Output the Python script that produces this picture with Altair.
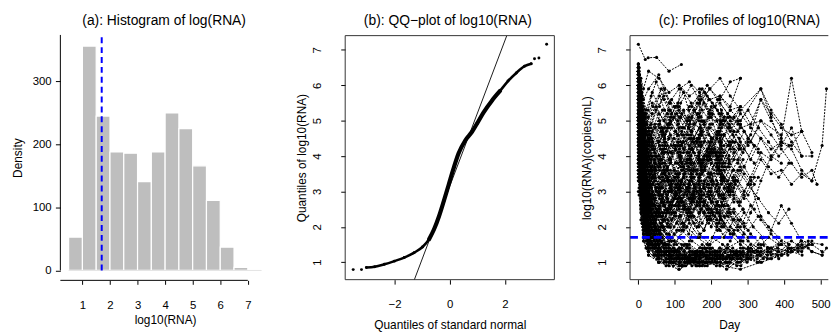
import altair as alt
import pandas as pd

FONT = "Liberation Sans"
H = 247
WA, WB, WC, GAP = 212, 211.7, 200.7, 76.3

titles = ["(a): Histogram of log(RNA)",
          "(b): QQ\u2212plot of log10(RNA)",
          "(c): Profiles of log10(RNA)"]

# ---------------- panel (a) : histogram ----------------
bin_left = [0.5, 1.0, 1.5, 2.0, 2.5, 3.0, 3.5, 4.0, 4.5, 5.0, 5.5, 6.0, 6.5]
bin_count = [53, 356, 245, 188, 186, 141, 188, 250, 225, 166, 111, 37, 5]
bin_width = 0.5
detect_limit = 1.7
hist_x_ticks = [1, 2, 3, 4, 5, 6, 7]
hist_y_ticks = [0, 100, 200, 300]

# ---------------- panel (b) : QQ plot ----------------
qq_theory = [-3.50, -3.20, -3.02, -2.72, -2.37, -2.01, -1.65, -1.29, -0.99, -0.75,
             -0.57, -0.39, -0.22, -0.04, 0.14, 0.32, 0.56, 0.80, 0.98, 1.22,
             1.52, 1.82, 2.11, 2.41, 2.71, 2.95, 3.07, 3.23, 3.51]
qq_sample = [0.79, 0.79, 0.85, 0.87, 0.94, 1.03, 1.13, 1.27, 1.43, 1.65,
             1.93, 2.30, 2.72, 3.19, 3.66, 4.08, 4.44, 4.68, 4.91, 5.23,
             5.56, 5.84, 6.12, 6.35, 6.54, 6.61, 6.75, 6.77, 7.16]
qq_intercept = 3.15
qq_slope = 2.06
qq_x_ticks = [-2, 0, 2]
log_ticks = [1, 2, 3, 4, 5, 6, 7]

# ---------------- panel (c) : profiles ----------------
day_ticks = [0, 100, 200, 300, 400, 500]
# profiles with their own visit days: (day, log10 RNA)
profiles = [
    [(0,5.1),(2,4.6),(7,3.4),(14,2.6),(28,1.9),(56,1.4),(84,1.2),(112,1.1),(168,1.0),(224,1.2),(280,1.1)],
    [(0,4.4),(3,4.0),(7,3.1),(14,2.2),(28,1.6),(56,1.2),(85,1.0),(113,0.9),(141,1.1),(170,1.3),(226,1.0)],
    [(0,5.8),(2,5.5),(6,4.3),(13,3.3),(27,2.2),(55,1.5),(83,1.3),(111,0.8),(167,1.1),(223,1.4),(279,1.2),(337,1.3),(392,1.2)],
    [(0,6.2),(2,5.9),(7,4.8),(14,3.7),(28,2.5),(57,1.8),(84,1.5),(112,1.3),(140,1.4),(168,1.2),(196,1.1),(224,1.3),(252,1.2),(280,1.0),(308,1.1)],
    [(0,3.9),(3,3.5),(7,2.6),(14,1.9),(28,1.4),(56,1.1),(112,1.0),(168,0.9),(224,1.1)],
    [(0,4.9),(2,4.7),(7,3.7),(14,2.8),(21,2.2),(28,1.8),(56,1.3),(84,1.2),(112,1.4),(140,1.2),(168,0.9),(197,1.0),(225,1.2),(253,1.3),(282,1.1),(338,1.0),(394,1.2),(450,1.4)],
    [(0,5.5),(2,5.0),(7,3.9),(14,2.9),(28,2.1),(56,1.6),(84,1.4),(112,1.2),(140,1.5),(168,1.3),(224,1.2),(280,1.4),(336,1.3),(392,1.5),(448,1.3),(476,1.6)],
    [(0,6.5),(2,6.3),(7,5.2),(14,4.0),(28,2.8),(56,1.9),(84,1.6),(112,1.1),(168,1.0),(224,0.9),(280,0.8),(336,1.0)],
    [(0,4.2),(2,4.0),(7,3.0),(14,2.3),(28,1.7),(56,1.2),(84,0.9),(112,1.1),(140,1.2),(168,1.4),(196,1.3),(252,1.1)],
    [(0,5.3),(3,5.1),(8,4.0),(15,3.1),(29,2.0),(57,1.4),(85,1.1),(113,1.0),(169,1.2),(225,1.0),(281,0.9),(309,1.2),(365,1.1),(421,1.3),(449,1.2)],
    [(0,3.5),(2,3.3),(7,2.4),(14,1.8),(28,1.3),(56,1.0),(112,0.8),(168,1.1)],
    [(0,6.0),(2,5.8),(7,4.5),(14,3.4),(28,2.3),(56,1.7),(84,1.3),(112,1.4),(140,1.1),(168,1.0),(196,1.2),(224,1.4),(252,1.1),(280,1.3),(308,1.5),(336,1.2),(364,1.4),(420,1.3),(446,1.6),(504,1.5)],
    [(0,4.7),(2,4.4),(7,3.3),(14,2.4),(28,1.5),(56,1.1),(84,1.2),(112,0.9),(140,1.0),(168,1.3),(196,1.1),(224,0.9),(252,1.0)],
    [(0,5.9),(2,5.6),(7,4.6),(14,3.5),(28,2.4),(42,1.9),(56,1.6),(84,1.3),(112,1.2),(140,1.0),(168,1.2),(196,1.4),(224,1.1),(280,1.2),(336,1.4),(364,1.2),(420,1.4),(477,1.5)],
    [(0,3.0),(2,2.9),(7,2.2),(14,1.6),(28,1.2),(56,1.0),(84,1.1),(112,1.3)],
    [(0,5.6),(2,5.3),(7,4.2),(14,3.2),(28,2.1),(56,1.5),(84,1.8),(112,2.6),(140,3.3),(168,3.9),(196,4.2),(224,4.5)],
    [(0,6.1),(2,5.8),(7,4.7),(14,3.6),(28,2.6),(56,2.0),(84,1.7),(112,2.3),(140,3.1),(168,2.6),(196,3.5),(224,4.0),(252,4.4),(280,4.8),(336,5.0),(392,4.6)],
    [(0,4.8),(2,4.6),(7,3.5),(14,2.5),(28,1.6),(56,1.2),(84,1.3),(112,1.1),(140,1.6),(168,2.4),(196,3.0),(224,3.6),(252,3.2),(280,2.7),(308,3.4),(336,4.1),(364,3.9),(392,4.4)],
    [(0,5.4),(2,5.2),(7,4.4),(14,3.6),(28,2.9),(56,2.3),(84,2.6),(112,3.5),(140,4.3),(168,4.8),(196,5.1),(224,4.9),(252,5.3),(280,5.4)],
    [(0,6.4),(2,6.2),(7,5.1),(14,4.1),(28,3.2),(56,2.5),(84,3.3),(112,4.2),(140,4.9),(168,5.5),(196,5.9),(224,5.6),(252,6.1),(280,6.2)],
    [(0,4.5),(2,4.3),(7,3.2),(14,2.3),(28,1.5),(56,1.1),(84,1.0),(112,1.2),(168,1.1),(224,1.3),(280,1.6),(308,2.4),(336,3.3),(364,4.0),(392,4.4),(420,4.2),(448,3.6),(476,3.3),(504,4.3),(516,5.9)],
    [(0,5.0),(2,4.8),(7,3.8),(14,2.8),(28,1.9),(56,1.4),(84,1.2),(112,1.0),(140,1.3),(168,1.1),(196,1.5),(224,2.2),(252,2.9),(280,3.6),(308,3.2),(336,2.3),(364,1.9),(392,2.6),(420,2.1),(448,1.6),(476,1.3),(504,1.2)],
    [(0,5.7),(2,5.5),(7,4.6),(14,3.8),(28,3.0),(56,2.4),(84,2.0),(112,2.7),(140,3.6),(168,4.4),(196,4.0),(224,4.7),(252,5.0),(280,5.4),(308,4.9),(336,5.6),(364,5.2),(392,4.8),(420,4.6),(448,4.7)],
    [(0,6.3),(2,6.0),(7,5.0),(14,4.2),(28,3.5),(56,2.9),(84,2.4),(112,3.1),(140,3.9),(168,4.6),(196,5.2),(224,5.7),(252,5.3),(280,5.0),(336,5.9),(364,5.3),(392,4.9),(420,4.4),(448,4.0),(476,4.0)],
    [(0,4.1),(2,3.9),(7,3.0),(14,2.1),(28,1.4),(56,1.1),(84,1.3),(112,1.7),(140,2.5),(168,3.1),(196,2.8),(224,2.3),(252,1.8),(280,1.5),(308,1.3),(336,1.2)],
    [(0,6.6),(2,6.5),(7,6.2),(14,5.9),(28,6.4),(56,6.2),(84,5.8),(112,6.0),(140,5.7),(168,5.9),(196,5.6),(224,5.7),(252,5.4),(280,6.2)],
    [(0,6.0),(3,5.9),(7,5.7),(14,5.6),(28,5.9),(56,6.3),(84,5.5),(112,5.9),(140,6.1),(168,5.8),(196,5.2),(224,5.0),(252,4.7),(280,5.2),(308,4.8),(336,4.5),(364,4.2),(392,4.4),(420,4.3),(448,4.7),(476,4.1)],
    [(0,5.2),(2,5.0),(7,4.7),(14,4.4),(28,4.0),(56,3.7),(84,3.9),(112,4.3),(140,4.5),(168,4.1),(196,4.8),(224,4.6),(252,4.2),(280,4.4),(308,3.9),(336,4.5),(364,4.0),(392,3.8)],
    [(0,5.8),(2,5.7),(7,5.3),(14,5.0),(28,4.6),(56,4.9),(84,5.3),(112,5.1),(140,5.4),(168,5.7),(196,5.3),(224,5.5),(252,5.1),(280,4.9)],
    [(0,4.9),(2,4.8),(7,4.4),(14,4.0),(28,3.6),(56,3.2),(84,3.5),(112,3.1),(140,3.8),(168,3.4),(196,3.9),(224,3.5),(252,3.0),(280,3.7),(308,3.3),(336,3.9),(364,3.5),(392,3.6),(420,3.2),(448,3.5),(476,3.3)],
    [(0,6.5),(2,6.3),(7,5.8),(14,5.2),(28,4.8),(56,4.4),(84,4.9),(112,5.3),(140,5.0),(168,5.5),(196,5.9),(224,6.2),(252,5.7),(280,5.3),(336,5.9),(364,5.1),(392,4.3),(420,4.8),(448,4.0)],
    [(0,5.5),(2,5.4),(7,5.0),(14,4.6),(28,4.3),(56,4.0),(84,4.5),(112,4.8),(140,4.2),(168,4.6),(196,4.3)],
    [(0,6.4),(1,6.3),(2,6.0),(4,5.6),(7,5.0),(10,4.3),(14,3.6),(21,2.7),(28,2.1)],
    [(0,5.0),(1,4.9),(2,4.7),(4,4.2),(7,3.7),(10,3.1),(14,2.6),(21,1.9),(28,1.5)],
    [(0,6.0),(1,5.9),(2,5.6),(4,5.0),(7,4.4),(10,3.8),(14,3.2),(21,2.4),(28,1.8),(42,1.4),(56,1.2)],
    [(0,4.3),(1,4.2),(2,4.0),(4,3.6),(7,3.0),(10,2.5),(14,2.0),(21,1.6),(28,1.3)],
    [(0,5.7),(1,5.6),(2,5.4),(4,4.9),(7,4.3),(10,3.6),(14,3.0),(21,2.2),(28,1.6),(42,1.2),(56,1.0)],
    [(0,6.6),(1,6.5),(2,6.3),(4,5.9),(7,5.4),(10,4.8),(14,4.2),(21,3.4),(28,2.8),(42,2.1),(56,1.7)],
    [(0,3.8),(1,3.7),(2,3.5),(4,3.1),(7,2.6),(10,2.1),(14,1.7),(21,1.4),(28,1.2)],
    [(0,5.3),(1,5.2),(2,5.0),(4,4.6),(7,4.0),(10,3.4),(14,2.8),(21,2.1),(28,1.7),(56,1.3)],
    [(0,7.16),(19,6.73),(27,6.78),(50,6.79),(84,6.4),(118,6.59)],
    [(0,6.2),(1,6.1),(2,5.9),(4,5.4),(7,4.9),(10,4.2),(14,3.7),(21,2.9),(28,2.3),(42,1.8),(56,1.5),(84,1.3)],
    [(0,4.6),(1,4.5),(2,4.3),(4,3.9),(7,3.3),(10,2.8),(14,2.3),(21,1.8),(28,1.4)],
    [(0,5.9),(2,5.7),(4,5.2),(7,4.6),(10,4.0),(14,3.4),(21,2.6),(28,2.0),(42,1.6),(56,1.4)],
    [(0,3.3),(2,3.1),(7,2.5),(14,1.8),(28,1.3),(56,1.0)],
    [(0,5.1),(2,4.9),(7,4.1),(14,3.4),(28,2.8),(56,2.4),(84,3.0),(112,2.5),(140,3.2),(168,2.7),(196,2.2),(224,2.9),(252,2.4),(280,2.0),(308,2.6),(336,2.2),(364,1.8),(392,1.5)],
    [(0,6.3),(2,6.1),(7,5.4),(14,4.7),(28,4.0),(56,3.4),(84,3.9),(112,3.3),(140,2.8),(168,3.5),(196,4.1),(224,3.6),(252,4.3),(280,4.9),(308,4.4),(336,5.0),(364,4.6),(392,4.2),(420,3.8),(448,3.4),(476,3.6),(490,3.2)],
    [(0,5.6),(2,5.4),(7,4.5),(14,3.7),(28,3.0),(56,2.3),(84,2.0),(112,2.6),(140,2.1),(168,1.7),(196,2.3),(224,1.9),(252,1.6),(280,2.2),(308,1.8),(336,1.5),(364,1.4),(392,1.6),(420,1.3),(448,1.5),(476,1.3),(504,1.2),(516,1.4)],
    [(0,6.1),(2,6.0),(7,5.5),(14,5.0),(28,4.5),(56,5.2),(84,4.8),(112,5.4),(140,5.0),(168,4.5),(196,4.9),(224,4.4),(252,4.8),(280,4.2),(308,4.6),(336,5.6),(364,5.0),(392,4.5),(420,6.2),(448,4.7)],
    [(0,4.0),(2,3.8),(7,3.1),(14,2.4),(28,1.9),(56,1.5),(84,1.6),(112,1.9),(140,2.3),(168,1.8),(196,1.5),(224,1.7),(252,2.0),(280,1.6),(308,1.4),(336,1.7),(364,1.3),(392,1.5),(420,1.6),(448,1.4),(476,1.5),(504,1.3)],
]

# further subjects that share one visit schedule per group (values read per visit)
sched_b = [0, 4, 10, 21, 35, 49, 70, 91, 119, 147, 175, 203, 231, 259, 287, 315, 343]
vals_b = [
    [5.8,5.2,4.3,3.5,2.9,3.6,4.2,4.8,4.3,5.1,4.6,4.1,3.7],
    [4.9,4.2,3.1,2.2,1.8,2.4,3.0,2.6,3.3,2.8,2.1,2.7,3.4,3.0,2.5],
    [6.2,5.9,5.1,4.6,4.9,5.4,5.0,5.6,5.2,4.7,5.3,4.9],
    [5.3,4.7,3.6,2.7,2.1,1.7,1.4,1.6,2.1,2.8,3.5,4.1,3.8,4.4],
    [4.4,3.9,3.0,2.3,1.9,1.5,1.3,1.1,1.2,1.0,1.3,1.1,1.2,1.4,1.2,1.3,1.1],
    [6.0,5.6,4.9,4.1,3.5,3.0,3.6,3.2,2.7,3.4,3.9,3.3,2.9,3.6],
    [3.6,3.3,2.7,2.0,1.6,1.3,1.5,1.2,1.4,1.1,0.9,1.2],
    [5.5,5.2,4.6,4.2,4.6,4.0,3.5,4.1,4.7,4.2,3.8,4.5,5.0,4.6,4.1],
    [6.5,6.1,5.3,4.4,3.7,3.1,2.6,2.2,2.8,3.4,2.9,2.4,2.0,1.8,1.6],
    [4.7,4.4,3.9,3.3,2.7,2.2,2.7,3.3,3.8,3.3,2.7,3.2,2.6,2.2,2.5,2.0,1.7],
    [5.1,4.6,3.5,2.5,1.8,1.4,1.2,1.0,0.9,1.1,1.3,1.0,1.2,1.1,1.3],
    [6.3,6.0,5.6,5.2,4.8,5.3,5.7,5.2,4.8,5.4,5.9,5.5,5.0],
    [4.2,3.7,2.8,2.0,1.5,1.7,2.2,2.7,3.3,2.9,3.6,4.2,3.7],
    [5.6,5.1,4.0,3.0,2.3,1.8,1.5,1.3,1.4,1.2,1.5,1.3,1.1,1.2,1.4,1.3,1.5],
    [6.4,6.2,5.8,5.3,5.7,6.1,5.6,5.1,4.6,4.2,4.7,5.2,4.9,4.4],
    [5.0,4.6,3.9,3.2,2.6,3.1,3.7,4.3,3.8,4.4,5.0,4.5,4.0],
    [3.9,3.5,2.6,1.9,1.4,1.2,1.0,1.2,1.1,0.9,1.0],
    [5.9,5.4,4.4,3.5,2.8,2.3,1.9,2.4,1.9,1.6,1.4,1.7,1.5,1.3],
    [4.6,4.3,3.7,3.1,3.6,4.0,3.5,3.0,3.6,4.2,3.8,3.3,2.8,3.4,3.9],
    [6.1,5.7,4.8,3.9,3.1,2.5,2.0,1.7,1.5,1.3,1.2,1.4,1.2,1.1,1.3],
]
sched_c = [0, 2, 5, 9, 16, 24, 40, 63, 98, 133, 161, 189, 217, 245, 273, 301, 329, 357, 385, 413]
vals_c = [
    [6.0,5.8,5.3,4.7,4.0,3.4,2.6,2.0,1.6,1.4,1.2,1.3,1.1,1.4,1.2,1.3,1.5,1.4,1.3,1.5],
    [5.2,5.0,4.5,4.0,3.4,2.9,2.3,1.8,1.5,2.0,2.6,3.2,3.7,3.3,3.9,4.5,4.1,3.7,3.4,3.8],
    [4.5,4.3,3.8,3.3,2.7,2.2,1.7,1.3,1.1,1.0,1.2,0.9,1.1,1.0,1.2,1.1],
    [6.6,6.4,6.0,5.5,5.0,4.6,4.2,4.7,5.1,4.6,5.2,5.7,5.3,4.8,5.0,4.5,4.2],
    [5.5,5.3,4.8,4.3,3.7,3.2,2.6,3.1,3.6,3.1,2.6,2.2,2.7,2.3,1.9,1.6,1.4,1.7,1.5],
    [3.7,3.6,3.2,2.7,2.2,1.8,1.4,1.2,1.0,1.1,0.9,1.0,1.2],
    [6.3,6.1,5.6,5.0,4.4,3.8,3.2,2.7,3.3,3.9,4.5,4.0,4.6,5.1,4.7,4.3,4.8,4.4,4.0,4.3],
    [4.9,4.8,4.4,3.9,3.3,2.8,2.2,1.7,1.3,1.5,1.2,1.4,1.3,1.5,1.2,1.4,1.3],
    [5.8,5.6,5.1,4.6,4.1,3.7,4.2,4.8,4.3,3.8,4.4,3.9,3.5,3.0,3.6,3.2,2.8],
    [6.4,6.2,5.7,5.1,4.4,3.7,2.9,2.3,1.8,1.5,1.3,1.1,1.2,1.0,1.3,1.1,1.2,1.4],
    [4.0,3.9,3.5,3.0,2.5,2.1,1.7,2.1,2.6,3.1,2.7,2.3,1.9,2.4,2.0,1.7],
    [5.4,5.2,4.7,4.1,3.5,3.0,3.4,3.9,3.4,2.9,3.5,4.0,3.6,3.1,2.7,3.2,2.8,2.4,2.1,2.5],
    [6.1,5.9,5.4,4.9,4.5,4.9,5.4,5.9,5.4,5.0,5.5,6.0,5.6,5.2,4.9,5.3,4.8],
    [4.3,4.2,3.7,3.1,2.5,1.9,1.5,1.2,1.4,1.1,1.3,1.0,1.1,1.2,1.0,1.1],
    [5.7,5.5,5.0,4.4,3.8,3.3,2.8,2.3,2.8,2.4,2.0,2.5,3.0,2.6,2.2,1.9,2.3,2.0,1.7,1.5],
    [6.5,6.3,5.9,5.3,4.6,4.0,3.4,2.9,2.4,2.0,1.7,1.5,1.3,1.4,1.2,1.3],
    [3.4,3.3,3.0,2.6,2.1,1.7,1.4,1.6,1.3,1.1,1.3,1.2],
    [5.0,4.9,4.5,4.0,3.6,3.9,4.4,3.9,4.5,4.1,3.6,4.2,4.7,4.3,3.8,4.4],
    [6.2,6.0,5.5,4.9,4.2,3.6,3.0,2.4,2.0,2.5,3.0,2.6,3.2,3.7,3.3,2.9,3.4],
    [4.8,4.6,4.1,3.5,2.9,2.4,1.9,1.6,1.3,1.1,1.0,1.2,1.0,0.9,1.1,1.2,1.0,1.3,1.1,1.4],
]
sched_d = [0, 1, 3, 6, 8, 12, 18, 26, 35, 46, 60, 77, 105, 126, 154, 182, 210, 238, 266]
vals_d = [
    [6.3,6.2,6.0,5.6,5.3,4.9,4.3,3.7,3.1,2.6,2.1,1.8,1.5,1.3,1.2,1.4,1.1,1.3,1.2],
    [5.1,5.0,4.8,4.5,4.2,3.8,3.3,2.8,2.4,2.0,1.7,1.5,1.9,2.5,3.1,3.7,4.2,3.8,4.4],
    [4.4,4.3,4.1,3.8,3.6,3.2,2.8,2.4,2.0,1.7,1.4,1.2,1.1,0.9,1.1,1.0,1.2,1.0],
    [6.0,5.9,5.7,5.4,5.2,4.9,4.6,4.3,4.0,3.8,4.2,4.7,5.2,4.8,5.3,5.8,5.4,5.0],
    [5.6,5.5,5.2,4.8,4.5,4.0,3.5,2.9,2.4,2.0,1.6,1.3,1.1,1.2,1.0,1.2,1.3],
    [3.9,3.8,3.6,3.3,3.1,2.8,2.4,2.0,1.7,1.5,1.3,1.1,1.3,1.5,1.2,1.4],
    [6.6,6.5,6.3,6.0,5.8,5.4,4.9,4.4,3.9,3.4,2.9,2.5,2.1,2.6,3.2,2.7,2.3,2.8,3.3],
    [4.8,4.7,4.5,4.2,4.0,3.6,3.1,2.6,2.2,1.9,1.6,1.4,1.2,1.0,1.1,0.9,1.0],
    [5.9,5.8,5.5,5.1,4.8,4.4,3.8,3.2,2.7,2.2,1.9,2.4,2.9,3.5,3.0,3.6,4.1,3.7,3.2],
    [5.3,5.2,5.0,4.7,4.4,4.0,3.5,3.0,2.5,2.1,1.8,1.5,1.3,1.1,1.3,1.0,1.2,1.1,1.3],
]
sched_e = [0, 6, 13, 30, 45, 66, 80, 102, 124, 138, 152, 180, 200, 215, 235, 262, 290, 318]
vals_e = [
    [5.5,4.8,3.9,3.2,3.8,3.1,3.7,4.3,3.6,4.1,3.4,2.9,3.5,3.0,2.6,3.3,2.8,3.4],
    [4.6,4.0,3.3,2.6,2.1,2.7,2.2,2.9,3.5,3.0,2.5,3.1,2.7,2.2,2.8,2.4,2.0],
    [6.1,5.6,5.0,4.5,4.9,4.3,4.8,4.2,4.6,5.1,4.5,4.0,4.4,3.9,4.3,4.7,4.2,3.8],
    [5.0,4.4,3.6,2.9,2.4,2.0,2.5,3.0,2.6,2.2,2.8,3.3,2.9,2.4,2.0,2.5,2.1],
    [6.4,5.9,5.2,4.7,4.2,4.7,5.2,4.7,5.3,4.8,5.3,4.9,5.4,5.0,4.6,5.1,4.7],
    [4.2,3.7,3.0,2.4,2.9,2.4,2.0,2.6,2.1,1.8,2.3,1.9,2.5,2.1,1.7,2.2],
    [5.7,5.2,4.5,3.8,3.3,3.8,3.3,2.8,3.4,3.9,3.4,3.9,3.5,4.0,3.6,3.1,3.7,3.2],
    [5.2,4.6,3.8,3.1,3.6,4.1,3.6,4.2,3.7,3.2,3.8,4.4,3.9,4.5,4.1,3.6],
    [6.0,5.5,4.7,4.0,3.5,2.9,2.4,2.9,2.5,3.0,3.6,3.1,2.7,3.2,2.8,3.3,2.9,2.5],
    [4.8,4.3,3.5,2.8,2.3,2.8,3.4,2.9,3.4,2.8,2.3,1.9,2.4,2.0,2.6,2.2,1.8],
    [5.9,5.4,4.9,4.4,4.8,5.3,4.9,5.4,5.8,5.3,4.9,5.5,5.1,4.6,5.1,4.7],
    [4.4,3.9,3.2,2.5,2.0,1.7,2.1,2.6,3.2,3.7,3.2,2.7,3.3,3.8,3.4,2.9,3.5],
    [6.2,5.7,5.0,4.3,3.7,4.2,3.6,3.1,3.7,3.2,2.7,3.2,3.8,3.3,2.9,3.4,3.0],
    [5.3,4.9,4.2,3.6,4.1,3.5,3.0,3.5,4.1,4.6,4.1,3.6,4.2,3.7,3.3,3.9],
    [3.8,3.4,2.7,2.1,2.6,2.2,2.8,2.3,1.9,2.4,2.9,2.4,2.0,2.5,2.1,1.8],
    [6.5,6.0,5.3,4.6,4.0,4.6,4.1,4.7,4.2,4.8,4.4,3.9,4.5,4.0,4.6,4.1,4.7,4.3],
    [5.1,4.6,3.9,3.3,2.8,3.3,2.7,3.2,2.7,2.3,2.9,2.4,3.0,2.6,3.1,2.7],
    [5.6,5.1,4.3,3.7,4.2,4.8,4.3,3.8,4.4,3.9,4.5,5.0,4.5,4.1,4.6,4.2,3.7,4.3],
    [4.1,3.6,2.9,2.3,1.9,2.3,2.8,2.4,2.0,2.5,2.1,2.6,3.1,2.7,2.3,2.8],
    [6.3,5.8,5.1,4.4,3.9,3.4,2.9,3.4,2.9,2.5,3.0,2.6,2.2,2.7,2.3,1.9,2.4],
]
sched_f = [0, 3, 8, 17, 31, 52, 76, 96, 130, 158, 186, 214, 242, 270, 298, 326, 354, 382, 410, 438, 466]
vals_f = [
    [5.0,4.5,3.5,2.5,1.7,1.3,1.1,1.0,0.9,1.1,1.0,1.2,1.1,1.3,1.2,1.1,1.3,1.2,1.4,1.3,1.5],
    [6.1,5.7,4.6,3.4,2.3,1.6,1.3,1.2,1.1,1.3,1.2,1.0,1.1,0.9,1.2,1.3,1.1,1.2,1.3,1.4],
    [4.3,3.9,3.0,2.1,1.5,1.2,1.0,0.9,1.0,1.2,1.1,0.9,1.0,1.1,1.2,1.0,1.2],
    [5.6,5.2,4.1,3.0,2.0,1.5,1.3,1.4,1.2,1.0,1.2,1.3,1.1,1.2,1.0,1.2,1.4,1.3,1.2,1.4,1.6],
    [3.6,3.3,2.6,1.9,1.4,1.1,0.9,1.0,1.2,0.9,1.1,1.0,0.8,1.0,1.1],
    [6.4,6.0,5.0,3.8,2.6,1.9,1.5,1.3,1.2,1.1,1.3,1.2,1.4,1.2,1.1,1.3,1.2,1.4,1.3,1.5,1.4],
]
sched_g = [0, 5, 11, 19, 27, 38, 58, 72, 88, 108, 116, 145, 166, 172, 193, 221, 228, 249, 277]
vals_g = [
    [6.0,5.5,4.9,4.4,4.0,4.5,5.0,4.6,5.1,5.5,5.1,4.7,5.2,5.6,5.2,4.8,5.3,4.9,4.5],
    [5.3,4.8,4.1,3.5,3.0,2.6,3.1,3.6,3.2,2.8,3.3,3.8,3.4,3.0,3.5,3.1,2.7,3.2],
    [6.5,6.1,5.6,5.1,4.7,5.2,5.7,5.3,4.9,5.4,5.9,5.5,5.0,4.6,5.1,5.6,5.2,4.8,5.3],
    [4.7,4.2,3.5,2.9,2.4,2.9,3.4,3.0,2.5,3.1,2.7,2.3,2.8,3.3,2.9,2.4,2.0,2.5],
    [5.8,5.3,4.6,4.0,3.6,3.2,3.7,4.2,3.8,4.3,3.9,3.4,3.9,4.4,4.0,3.6,4.1,3.7,4.2],
    [6.2,5.8,5.2,4.7,5.1,5.5,5.0,4.5,5.0,4.6,4.1,4.6,5.1,4.7,4.2,4.7,4.3,3.9],
    [5.0,4.5,3.8,3.2,2.7,2.3,2.8,2.4,2.0,2.6,3.1,2.7,3.2,2.8,2.4,2.9,3.4,3.0,2.6],
    [5.6,5.2,4.6,4.1,4.5,4.0,3.6,4.1,4.6,4.1,3.7,4.2,3.8,4.3,4.8,4.4,3.9,4.4],
    [6.4,5.9,5.2,4.6,4.1,3.6,3.1,3.6,3.1,2.7,3.2,2.8,3.3,3.8,3.4,2.9,3.5,3.0],
    [4.5,4.1,3.4,2.8,3.3,2.9,2.5,3.0,3.6,3.2,2.7,3.3,2.9,2.5,3.0,2.6,2.2],
    [5.9,5.5,5.0,4.6,4.2,4.7,4.3,4.8,5.3,4.9,4.4,4.0,4.5,5.0,4.6,4.1,4.6],
    [5.2,4.7,4.0,3.4,3.9,3.4,3.9,4.4,3.9,3.5,4.0,4.5,4.1,3.7,4.2,3.8,3.3,3.8,4.3],
    [6.1,5.6,4.9,4.3,3.8,4.3,3.8,3.3,3.9,3.4,3.0,3.5,4.0,3.6,3.1,3.7,3.2],
    [4.9,4.4,3.7,3.0,2.5,2.1,2.6,2.2,2.7,3.2,2.8,2.4,2.0,2.5,2.1,2.6,2.2,1.9],
    [6.3,5.9,5.4,4.9,5.3,5.8,5.4,5.9,5.5,5.0,5.5,6.0,5.6,5.1,5.6,5.2,4.8],
    [5.5,5.0,4.3,3.7,3.2,3.7,4.3,3.8,3.3,3.8,4.3,3.9,3.4,3.0,3.5,4.0,3.6,3.1],
    [5.1,4.6,3.9,3.3,2.9,3.4,2.9,3.5,3.0,3.5,4.0,3.6,4.1,3.7,3.2,3.7,3.3,2.9],
    [6.6,6.2,5.7,5.2,4.8,4.4,4.9,4.5,4.1,4.6,5.1,4.7,4.3,4.8,4.4,3.9,4.4,4.0],
    [4.3,3.8,3.1,2.5,2.1,2.5,3.0,2.6,3.1,2.7,2.3,2.8,2.4,2.9,2.5,2.1,2.6],
    [5.7,5.3,4.7,4.2,3.8,4.3,4.8,4.3,3.9,4.4,4.0,3.5,4.0,3.6,4.1,4.6,4.2,3.8,4.3],
]

one = pd.DataFrame({"v": [0]})
base_one = alt.Chart(one)


def title_mark(text, xc):
    return base_one.mark_text(font=FONT, fontSize=14, align="center", baseline="middle", color="black").encode(
        x=alt.value(xc), y=alt.value(-15), text=alt.value(text))


def box_rules(w, right=True):
    col = "#333333"
    layers = [
        base_one.mark_rule(color=col, strokeWidth=1).encode(x=alt.value(0), x2=alt.value(w), y=alt.value(0)),
        base_one.mark_rule(color=col, strokeWidth=1).encode(x=alt.value(0), x2=alt.value(w), y=alt.value(H)),
        base_one.mark_rule(color=col, strokeWidth=1).encode(x=alt.value(0), y=alt.value(0), y2=alt.value(H)),
    ]
    if right:
        layers.append(base_one.mark_rule(color=col, strokeWidth=1).encode(x=alt.value(w), y=alt.value(0), y2=alt.value(H)))
    return layers


def left_axis_rot(title):
    return alt.Axis(values=log_ticks, title=title, domain=False, grid=False, tickSize=4.5,
                    labelPadding=23.5, labelAngle=270, labelAlign="center", labelBaseline="middle",
                    labelOverlap=False, titleX=-44, titleY=H / 2, titleAngle=270, titleAlign="center",
                    titleBaseline="middle")


def bottom_axis(values, title):
    return alt.Axis(values=values, title=title, domain=False, grid=False, tickSize=4.5, labelOverlap=False,
                    labelPadding=21, labelBaseline="middle", titleY=45, titleBaseline="middle")


# ---------- panel (a) ----------
hist_df = pd.DataFrame({"lo": bin_left, "hi": [v + bin_width for v in bin_left], "n": bin_count,
                        "z": [0] * len(bin_left)})
xa = alt.Scale(domain=[0.2, 0.2 + WA / 27.9], nice=False, zero=False)
ya = alt.Scale(domain=[-14.6, 372.6], nice=False, zero=False)
ax_ax = alt.Axis(values=hist_x_ticks, title="log10(RNA)", domain=False, grid=False,
                 tickSize=4, offset=0.7, labelPadding=21, labelBaseline="middle",
                 labelOverlap=False, titleY=39.3, titleBaseline="middle")
ax_ay = alt.Axis(values=hist_y_ticks, title="Density", domain=False, grid=False,
                 tickSize=5, labelPadding=4.3, labelAlign="right", labelBaseline="middle",
                 labelOverlap=False, titleX=-43, titleY=H / 2, titleAngle=270,
                 titleAlign="center", titleBaseline="middle")


def xa_enc():
    return alt.X("lo:Q", scale=xa, axis=ax_ax)


def ya_enc():
    return alt.Y("n:Q", scale=ya, axis=ax_ay)


bars = alt.Chart(hist_df).mark_rect(color="#bebebe", stroke="white", strokeWidth=1.2).encode(
    x=xa_enc(), x2="hi:Q", y=ya_enc(), y2="z:Q")
gray_base = alt.Chart(pd.DataFrame({"lo": [0.5], "hi": [7.5], "n": [0]})).mark_rule(
    color="#e4e4e4", strokeWidth=1).encode(x=xa_enc(), x2="hi:Q", y=ya_enc())
yline_a = alt.Chart(pd.DataFrame({"lo": [0.2], "n": [0], "z": [373.7]})).mark_rule(
    color="black", strokeWidth=1).encode(x=xa_enc(), y=ya_enc(), y2="z:Q")
xline_a = alt.Chart(pd.DataFrame({"lo": [0.2], "hi": [7]})).mark_rule(color="black", strokeWidth=1).encode(
    x=xa_enc(), x2="hi:Q", y=alt.value(H + 0.7))
blue_a = alt.Chart(pd.DataFrame({"lo": [detect_limit], "n": [0], "z": [372.6]})).mark_rule(
    color="blue", strokeWidth=2, strokeDash=[6, 4]).encode(x=xa_enc(), y=ya_enc(), y2="z:Q")
anchor = base_one.mark_rule(strokeOpacity=0, strokeWidth=1).encode(
    x=alt.value(-52.5), y=alt.value(-25.5), y2=alt.value(-25))

panel_a = alt.layer(bars, gray_base, yline_a, xline_a, blue_a, title_mark(titles[0], 105), anchor).properties(
    width=WA, height=H)

# ---------- panel (b) ----------
qq_df = pd.DataFrame({"t": qq_theory, "s": qq_sample})
xb = alt.Scale(domain=[-3.79, 3.79], nice=False, zero=False)
yb = alt.Scale(domain=[0.506, 7.405], nice=False, zero=False)
qq_pts = alt.Chart(qq_df).mark_circle(size=9, color="black", opacity=1).encode(
    x=alt.X("t:Q", scale=xb, axis=bottom_axis(qq_x_ticks, "Quantiles of standard normal")),
    y=alt.Y("s:Q", scale=yb, axis=left_axis_rot("Quantiles of log10(RNA)")),
)
qq_band = alt.Chart(qq_df.iloc[2:26]).mark_line(color="black", strokeWidth=2.6, strokeCap="round",
                                                interpolate="monotone").encode(x="t:Q", y="s:Q")
qq_core = alt.Chart(qq_df.iloc[9:22]).mark_line(color="black", strokeWidth=4.2, strokeCap="round",
                                                interpolate="monotone").encode(x="t:Q", y="s:Q")
ends = [-3.79, 3.79]
qq_line_df = pd.DataFrame({"t": ends, "s": [qq_intercept + qq_slope * e for e in ends]})
qq_line = alt.Chart(qq_line_df).mark_line(color="black", strokeWidth=0.9, clip=True).encode(x="t:Q", y="s:Q")

panel_b = alt.layer(qq_pts, qq_band, qq_core, qq_line, *box_rules(WB), title_mark(titles[1], WB / 2 - 2)).properties(
    width=WB, height=H)

# ---------- panel (c) ----------
rows = []
pid = 0
for prof in profiles:
    for d, v in prof:
        rows.append({"id": pid, "day": d, "val": v})
    pid += 1
for sched, group in ((sched_b, vals_b), (sched_c, vals_c), (sched_d, vals_d), (sched_e, vals_e),
                     (sched_f, vals_f), (sched_g, vals_g)):
    for vals in group:
        for d, v in zip(sched, vals):
            rows.append({"id": pid, "day": d, "val": v})
        pid += 1
prof_df = pd.DataFrame(rows)

xc = alt.Scale(domain=[-22.8, -22.8 + WC * 2.71], nice=False, zero=False)
yc = alt.Scale(domain=[0.506, 7.405], nice=False, zero=False)
prof_lines = alt.Chart(prof_df).mark_line(color="black", strokeWidth=1.0, strokeDash=[2, 1.2]).encode(
    x=alt.X("day:Q", scale=xc, axis=bottom_axis(day_ticks, "Day")),
    y=alt.Y("val:Q", scale=yc, axis=left_axis_rot("log10(RNA)(copies/mL)")),
    detail="id:N",
    order="day:Q",
)
prof_pts = alt.Chart(prof_df).mark_circle(size=10, color="black", opacity=1).encode(x="day:Q", y="val:Q")
blue_c = alt.Chart(pd.DataFrame({"val": [detect_limit]})).mark_rule(
    color="blue", strokeWidth=2.7, strokeDash=[8, 4]).encode(
    x=alt.value(0), x2=alt.value(WC), y="val:Q")

panel_c = alt.layer(prof_lines, prof_pts, blue_c, *box_rules(WC, right=False),
                    title_mark(titles[2], 110.7)).properties(width=WC, height=H)

chart = alt.concat(panel_a, panel_b, panel_c, columns=3, spacing=GAP, bounds="flush", align="none",
                   padding=0).configure_view(stroke=None).configure_axis(
    labelFont=FONT, titleFont=FONT, labelFontSize=11.5, titleFontSize=12,
    labelColor="black", titleColor="black", tickColor="black", tickWidth=1,
    titleFontWeight="normal", labelFlush=False, labelOverlap=False)

chart.save("out.html", embed_options={"renderer": "svg", "actions": False})
